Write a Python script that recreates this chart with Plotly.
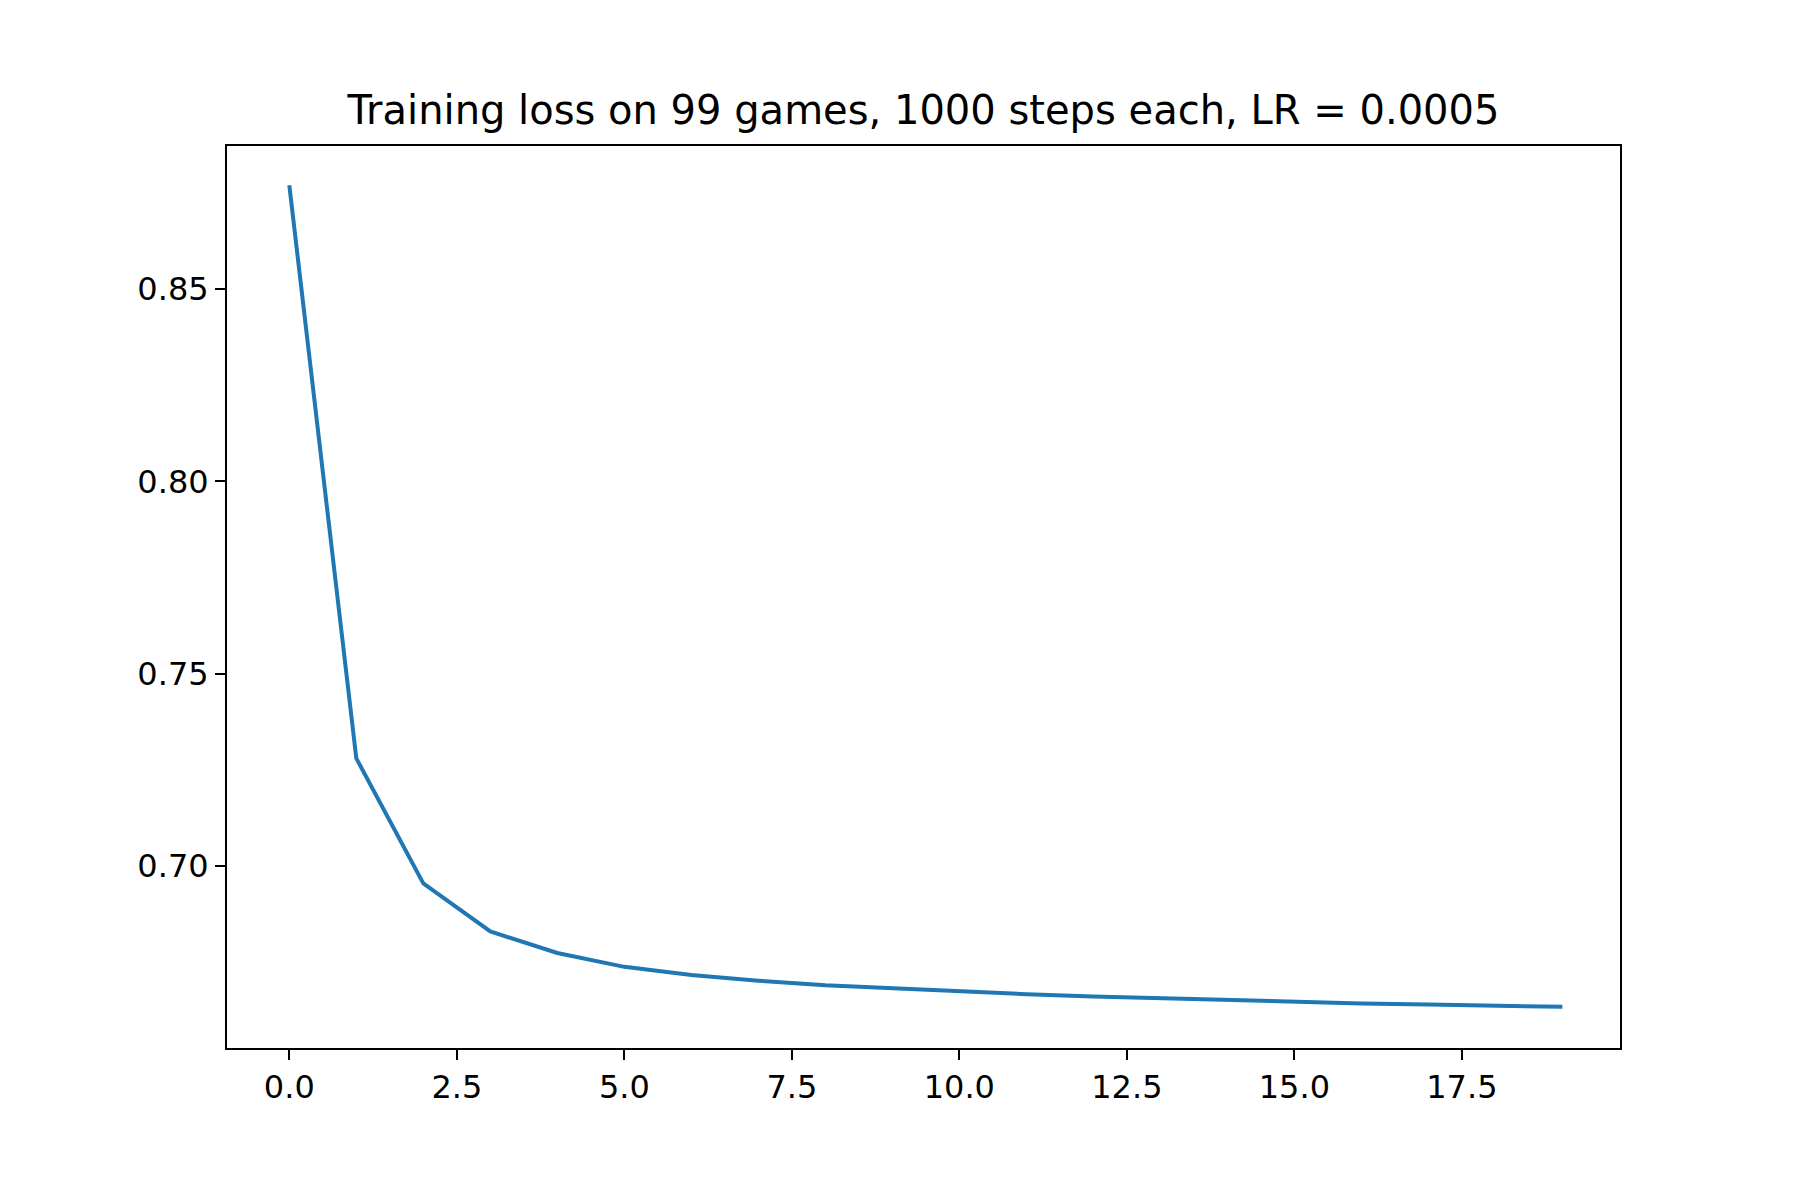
import plotly.graph_objects as go

# training loss per game index
games = list(range(20))
loss = [0.877, 0.728, 0.6955, 0.683, 0.6774, 0.6738, 0.6717, 0.6702, 0.6690, 0.6682,
        0.6673, 0.6667, 0.6661, 0.6656, 0.6652, 0.6647, 0.6643, 0.6640, 0.6637, 0.6634]

x_ticks = [0, 2.5, 5, 7.5, 10, 12.5, 15, 17.5]
x_labels = ["0.0", "2.5", "5.0", "7.5", "10.0", "12.5", "15.0", "17.5"]
y_ticks = [0.70, 0.75, 0.80, 0.85]
y_labels = ["0.70", "0.75", "0.80", "0.85"]

fig = go.Figure()
fig.add_trace(go.Scatter(x=games, y=loss, mode="lines",
                         line=dict(color="#1f77b4", width=4)))

axis_style = dict(showgrid=False, zeroline=False, showline=True, mirror=True,
                  linecolor="black", linewidth=2, ticks="outside", ticklen=10,
                  tickwidth=2, tickcolor="black",
                  tickfont=dict(family="DejaVu Sans", size=32, color="black"))

fig.update_xaxes(range=[-0.93, 19.86], tickvals=x_ticks, ticktext=x_labels, **axis_style)
fig.update_yaxes(range=[0.6527, 0.8872], tickvals=y_ticks, ticktext=y_labels, **axis_style)

fig.update_layout(
    width=1800, height=1200,
    plot_bgcolor="white", paper_bgcolor="white",
    showlegend=False,
    margin=dict(l=219, r=188, t=138, b=160),
    title=dict(text="Training loss on 99 games, 1000 steps each, LR = 0.0005",
               xref="paper", x=0.5, xanchor="center", y=0.915, yanchor="middle",
               font=dict(family="DejaVu Sans", size=40, color="black")),
)

fig.write_html("out.html")
